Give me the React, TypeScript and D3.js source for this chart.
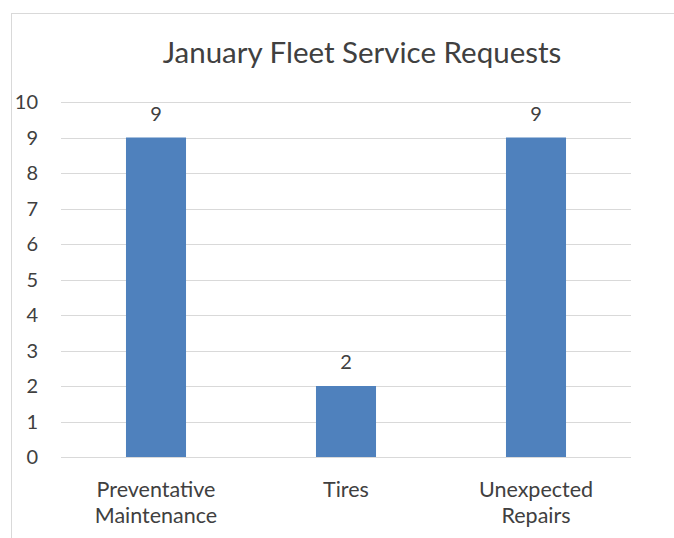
import React from 'react';
import * as d3 from 'd3';

const categories = ['Preventative Maintenance', 'Tires', 'Unexpected Repairs'];
const categoryLines = [['Preventative', 'Maintenance'], ['Tires'], ['Unexpected', 'Repairs']];
const requests = [9, 2, 9];
const yTicks = [0, 1, 2, 3, 4, 5, 6, 7, 8, 9, 10];
const title = 'January Fleet Service Requests';

export default function App() {
  const width = 674;
  const height = 538;
  const plot = { left: 61, right: 631, top: 102, bottom: 457 };

  const x = d3.scaleBand<string>()
    .domain(categories)
    .range([plot.left, plot.right])
    .paddingInner(0.684)
    .paddingOuter(0.342);

  const y = d3.scaleLinear()
    .domain([0, 10])
    .range([plot.bottom, plot.top]);

  const font = 'Lato, "Open Sans", sans-serif';
  const textColor = '#404040';
  const gridColor = '#d9d9d9';

  return (
    <svg
      width={width}
      height={height}
      style={{ position: 'absolute', left: 0, top: 0, background: 'white' }}
      fontFamily={font}
    >
      {/* chart area border, cropped on right and bottom */}
      <rect x={11.5} y={13.5} width={720} height={600} fill="white" stroke={gridColor} />

      <text x={362} y={63} textAnchor="middle" fontSize={29.5} fill={textColor}>
        {title}
      </text>

      {/* gridlines */}
      {yTicks.map(t => (
        <line
          key={t}
          x1={plot.left}
          x2={plot.right}
          y1={Math.round(y(t)) + 0.5}
          y2={Math.round(y(t)) + 0.5}
          stroke={gridColor}
          strokeWidth={1}
        />
      ))}

      {/* y tick labels */}
      {yTicks.map(t => (
        <text
          key={t}
          x={38}
          y={y(t)}
          dy="0.36em"
          textAnchor="end"
          fontSize={20}
          fill={textColor}
        >
          {t}
        </text>
      ))}

      {/* bars */}
      {categories.map((c, i) => (
        <rect
          key={c}
          x={x(c)}
          y={y(requests[i])}
          width={x.bandwidth()}
          height={y(0) - y(requests[i])}
          fill="#4f81bd"
        />
      ))}

      {/* data labels */}
      {categories.map((c, i) => (
        <text
          key={c}
          x={(x(c) ?? 0) + x.bandwidth() / 2}
          y={y(requests[i]) - 17}
          textAnchor="middle"
          fontSize={20}
          fill={textColor}
        >
          {requests[i]}
        </text>
      ))}

      {/* category labels */}
      {categories.map((c, i) => (
        <text
          key={c}
          x={(x(c) ?? 0) + x.bandwidth() / 2}
          textAnchor="middle"
          fontSize={21.5}
          fill={textColor}
        >
          {categoryLines[i].map((line, j) => (
            <tspan key={j} x={(x(c) ?? 0) + x.bandwidth() / 2} y={497 + j * 26}>
              {line}
            </tspan>
          ))}
        </text>
      ))}
    </svg>
  );
}
